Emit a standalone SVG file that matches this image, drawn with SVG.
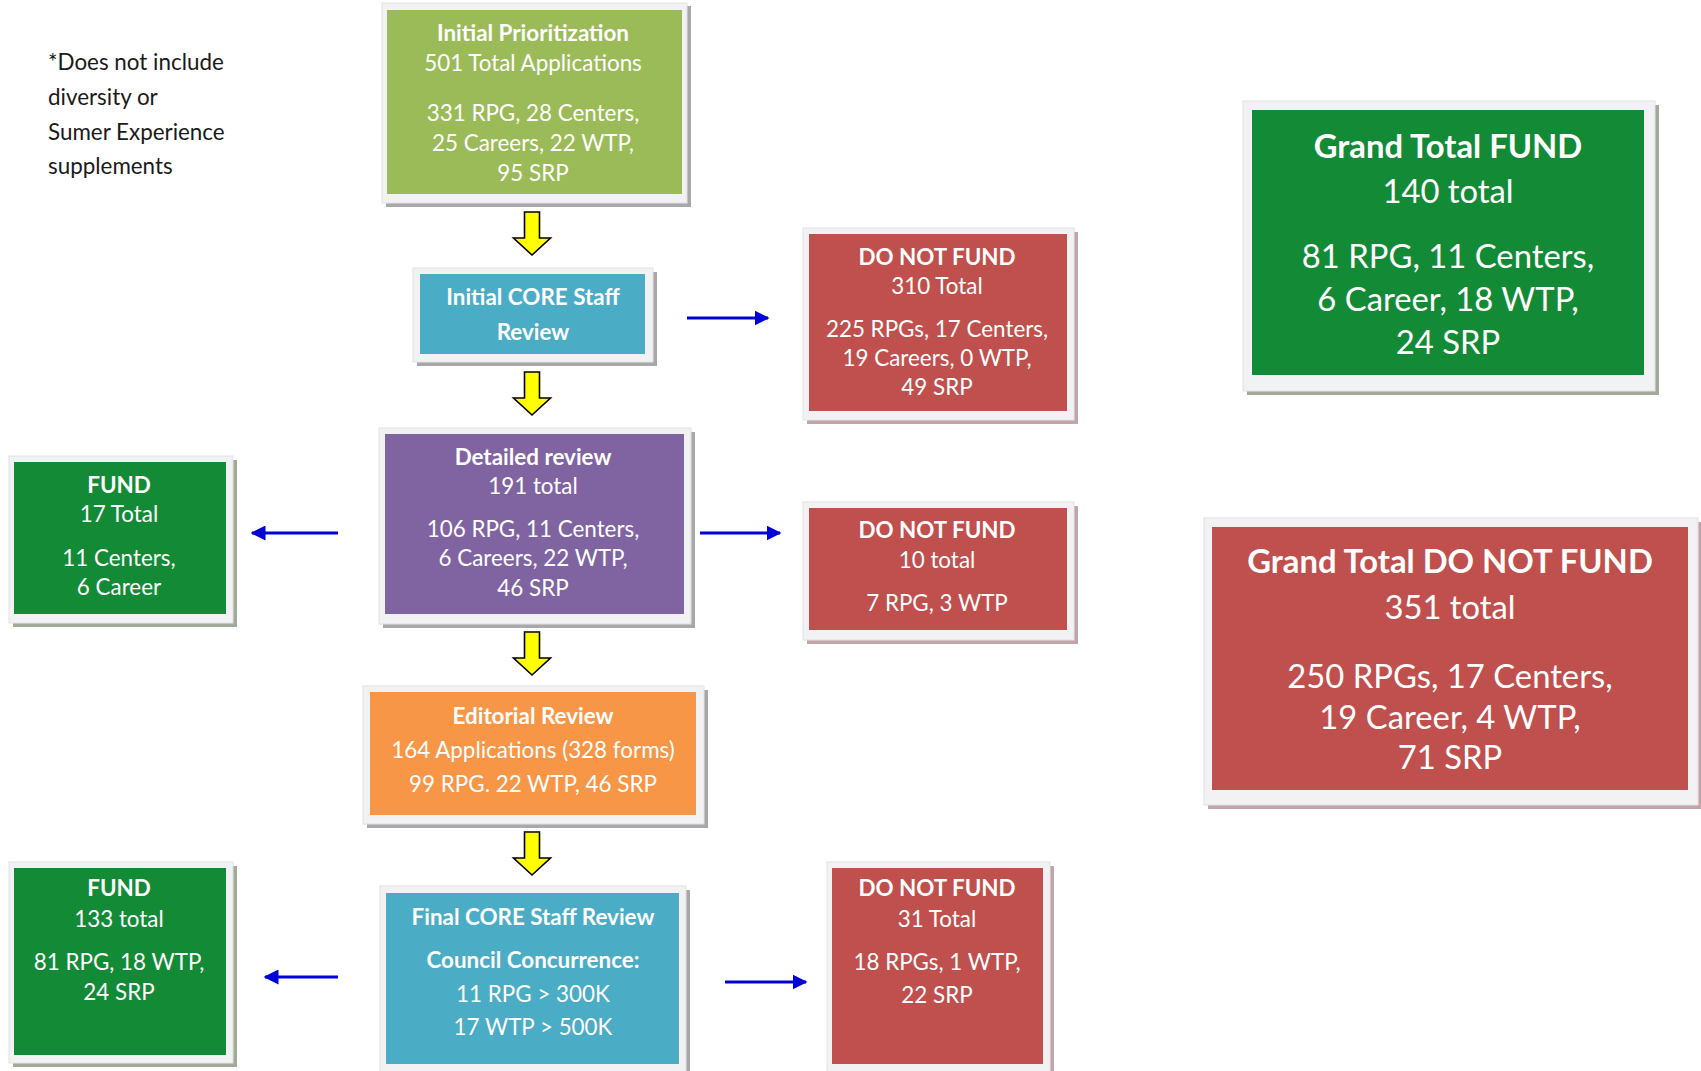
<svg xmlns="http://www.w3.org/2000/svg" width="1701" height="1071" viewBox="0 0 1701 1071">
<defs>
<style>
text{font-family:Lato,"Liberation Sans",sans-serif;fill:#ffffff;text-anchor:middle;font-size:22.4px}
.b{font-weight:bold}
.g{font-size:32.8px}
.note{fill:#1a1a1a;text-anchor:start;font-size:22.4px}
.frame{fill:#f2f2f4;stroke:#e2e2e6;stroke-width:1}
.sh{fill:#a8a8a8}
.shr{fill:#c2a5a9}
.shg{fill:#a2ab9a}
.olive{fill:#9bbb59}
.blue{fill:#4bacc6}
.red{fill:#c0504d}
.purple{fill:#8064a2}
.orange{fill:#f79646}
.green{fill:#138a36}
.ya{fill:#ffff00;stroke:#000;stroke-width:1.6;stroke-linejoin:miter}
.ba{stroke:#0000d8;stroke-width:3;fill:none}
</style>
<marker id="ah" viewBox="0 0 10 10" refX="9" refY="5" markerWidth="5" markerHeight="5" orient="auto-start-reverse" markerUnits="strokeWidth">
<path d="M0,0 L10,5 L0,10 z" fill="#0000d8"/>
</marker>
<path id="yarrow" d="M-7.5,0 h15 v26 h11 l-18.5,17 l-18.5,-17 h11 z"/>
</defs>

<g id="note">
<text class="note" x="48" y="70">*Does not include</text>
<text class="note" x="48" y="105">diversity or</text>
<text class="note" x="48" y="140">Sumer Experience</text>
<text class="note" x="48" y="174">supplements</text>
</g>

<g id="connectors">
<use href="#yarrow" class="ya" x="532" y="212"/>
<use href="#yarrow" class="ya" x="532" y="372"/>
<use href="#yarrow" class="ya" x="532" y="632"/>
<use href="#yarrow" class="ya" x="532" y="832"/>
<line class="ba" x1="687" y1="318" x2="768" y2="318" marker-end="url(#ah)"/>
<line class="ba" x1="700" y1="533" x2="780" y2="533" marker-end="url(#ah)"/>
<line class="ba" x1="338" y1="533" x2="252" y2="533" marker-end="url(#ah)"/>
<line class="ba" x1="338" y1="977" x2="265" y2="977" marker-end="url(#ah)"/>
<line class="ba" x1="725" y1="982" x2="806" y2="982" marker-end="url(#ah)"/>
</g>

<g id="initial-prioritization">
<rect class="sh" x="386" y="6" width="305" height="201"/>
<rect class="frame" x="382" y="3" width="305" height="200"/>
<rect class="olive" x="387" y="10" width="295" height="184"/>
<text class="b" x="533" y="41">Initial Prioritization</text>
<text x="533" y="71">501 Total Applications</text>
<text x="533" y="121">331 RPG, 28 Centers,</text>
<text x="533" y="151">25 Careers, 22 WTP,</text>
<text x="533" y="181">95 SRP</text>
</g>

<g id="initial-core">
<rect class="sh" x="417" y="272" width="240" height="94"/>
<rect class="frame" x="413" y="268" width="240" height="94"/>
<rect class="blue" x="420" y="274" width="225" height="80"/>
<text class="b" x="533" y="305">Initial CORE Staff</text>
<text class="b" x="533" y="340">Review</text>
</g>

<g id="dnf-1">
<rect class="shr" x="807" y="232" width="271" height="192"/>
<rect class="frame" x="803" y="228" width="271" height="192"/>
<rect class="red" x="809" y="234" width="258" height="177"/>
<text class="b" x="937" y="265">DO NOT FUND</text>
<text x="937" y="294">310 Total</text>
<text x="937" y="337">225 RPGs, 17 Centers,</text>
<text x="937" y="366">19 Careers, 0 WTP,</text>
<text x="937" y="395">49 SRP</text>
</g>

<g id="detailed-review">
<rect class="sh" x="383" y="432" width="312" height="196"/>
<rect class="frame" x="379" y="428" width="312" height="196"/>
<rect class="purple" x="385" y="434" width="299" height="180"/>
<text class="b" x="533" y="465">Detailed review</text>
<text x="533" y="494">191 total</text>
<text x="533" y="537">106 RPG, 11 Centers,</text>
<text x="533" y="566">6 Careers, 22 WTP,</text>
<text x="533" y="596">46 SRP</text>
</g>

<g id="fund-1">
<rect class="shg" x="13" y="460" width="224" height="167"/>
<rect class="frame" x="9" y="456" width="224" height="167"/>
<rect class="green" x="14" y="462" width="212" height="152"/>
<text class="b" x="119" y="493">FUND</text>
<text x="119" y="522">17 Total</text>
<text x="119" y="566">11 Centers,</text>
<text x="119" y="595">6 Career</text>
</g>

<g id="dnf-2">
<rect class="shr" x="807" y="506" width="271" height="138"/>
<rect class="frame" x="803" y="502" width="271" height="138"/>
<rect class="red" x="809" y="508" width="258" height="122"/>
<text class="b" x="937" y="538">DO NOT FUND</text>
<text x="937" y="568">10 total</text>
<text x="937" y="611">7 RPG, 3 WTP</text>
</g>

<g id="editorial-review">
<rect class="sh" x="367" y="690" width="341" height="138"/>
<rect class="frame" x="363" y="686" width="341" height="138"/>
<rect class="orange" x="370" y="692" width="326" height="123"/>
<text class="b" x="533" y="724">Editorial Review</text>
<text x="533" y="758">164 Applications (328 forms)</text>
<text x="533" y="792">99 RPG. 22 WTP, 46 SRP</text>
</g>

<g id="fund-2">
<rect class="shg" x="13" y="866" width="224" height="201"/>
<rect class="frame" x="9" y="862" width="224" height="201"/>
<rect class="green" x="14" y="868" width="212" height="187"/>
<text class="b" x="119" y="896">FUND</text>
<text x="119" y="927">133 total</text>
<text x="119" y="970">81 RPG, 18 WTP,</text>
<text x="119" y="1000">24 SRP</text>
</g>

<g id="final-core">
<rect class="sh" x="384" y="890" width="306" height="190"/>
<rect class="frame" x="380" y="886" width="306" height="190"/>
<rect class="blue" x="386" y="893" width="293" height="171"/>
<text class="b" x="533" y="925">Final CORE Staff Review</text>
<text class="b" x="533" y="968">Council Concurrence:</text>
<text x="533" y="1002">11 RPG &gt; 300K</text>
<text x="533" y="1035">17 WTP &gt; 500K</text>
</g>

<g id="dnf-3">
<rect class="shr" x="831" y="866" width="223" height="210"/>
<rect class="frame" x="827" y="862" width="223" height="210"/>
<rect class="red" x="832" y="868" width="211" height="196"/>
<text class="b" x="937" y="896">DO NOT FUND</text>
<text x="937" y="927">31 Total</text>
<text x="937" y="970">18 RPGs, 1 WTP,</text>
<text x="937" y="1003">22 SRP</text>
</g>

<g id="grand-fund">
<rect class="shg" x="1247" y="105" width="412" height="290"/>
<rect class="frame" x="1243" y="101" width="412" height="290"/>
<rect class="green" x="1252" y="110" width="392" height="265"/>
<text class="b g" x="1448" y="158">Grand Total FUND</text>
<text class="g" x="1448" y="203">140 total</text>
<text class="g" x="1448" y="268">81 RPG, 11 Centers,</text>
<text class="g" x="1448" y="311">6 Career, 18 WTP,</text>
<text class="g" x="1448" y="354">24 SRP</text>
</g>

<g id="grand-dnf">
<rect class="shr" x="1208" y="522" width="494" height="287"/>
<rect class="frame" x="1204" y="518" width="494" height="287"/>
<rect class="red" x="1212" y="527" width="476" height="263"/>
<text class="b g" x="1450" y="573">Grand Total DO NOT FUND</text>
<text class="g" x="1450" y="619">351 total</text>
<text class="g" x="1450" y="688">250 RPGs, 17 Centers,</text>
<text class="g" x="1450" y="729">19 Career, 4 WTP,</text>
<text class="g" x="1450" y="769">71 SRP</text>
</g>
</svg>
